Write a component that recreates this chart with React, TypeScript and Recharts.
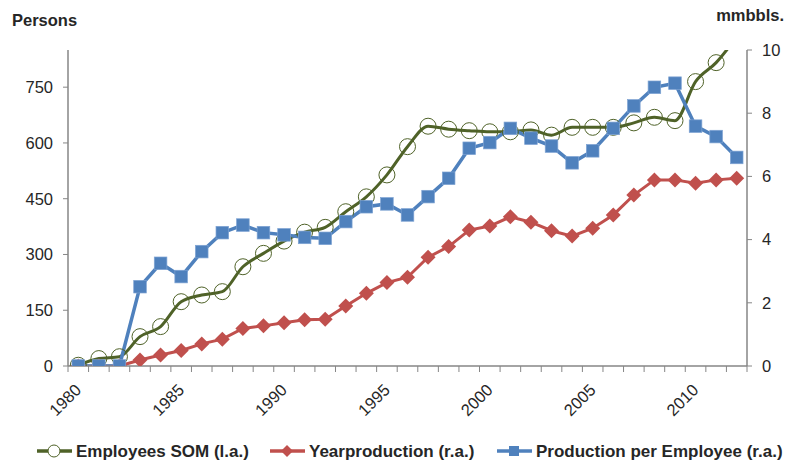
import React from "react";
import { LineChart, Line, XAxis, YAxis } from "recharts";

const years = [
  1980, 1981, 1982, 1983, 1984, 1985, 1986, 1987, 1988, 1989, 1990,
  1991, 1992, 1993, 1994, 1995, 1996, 1997, 1998, 1999, 2000,
  2001, 2002, 2003, 2004, 2005, 2006, 2007, 2008, 2009, 2010, 2011, 2012,
];

// persons (left axis)
const employees = [
  2, 20, 25, 79, 106, 173, 191, 200, 267, 303, 336,
  360, 373, 415, 455, 514, 590, 645, 637, 633, 630,
  630, 635, 621, 642, 642, 642, 654, 669, 660, 765, 816, 885,
];

// mmbbls (right axis)
const yearProduction = [
  0, 0, 0, 0.19, 0.35, 0.49, 0.7, 0.85, 1.19, 1.27, 1.37,
  1.46, 1.48, 1.9, 2.3, 2.64, 2.81, 3.44, 3.78, 4.3, 4.43,
  4.72, 4.55, 4.28, 4.11, 4.36, 4.78, 5.41, 5.89, 5.89, 5.78, 5.89, 5.94,
];

const perEmployee = [
  0, 0, 0, 2.51, 3.25, 2.83, 3.62, 4.22, 4.46, 4.22, 4.15,
  4.07, 4.04, 4.57, 5.04, 5.13, 4.78, 5.36, 5.94, 6.89, 7.07,
  7.52, 7.21, 6.96, 6.43, 6.81, 7.52, 8.23, 8.82, 8.95, 7.59, 7.26, 6.6,
];

const leftTicks = [0, 150, 300, 450, 600, 750];
const rightTicks = [0, 2, 4, 6, 8, 10];

const data = years.map((year, i) => ({
  year,
  employees: employees[i],
  yearProduction: yearProduction[i],
  perEmployee: perEmployee[i],
}));

const W = 787;
const H = 463;
const LEFT = 68;
const RIGHT = 747;
const TOP = 50;
const BOTTOM = 366;
const BW = (RIGHT - LEFT) / years.length;

const GREEN = "#4f6228";
const RED = "#c0504d";
const BLUE = "#4f81bd";
const AXIS = "#868686";
const TEXT = "#262626";
const FONT = "'Liberation Sans', Arial, sans-serif";

const YearTick = (props: any) => {
  const { x, payload, index } = props;
  const x0 = x - BW / 2;
  const year = payload.value;
  return (
    <g>
      <line x1={x0} x2={x0} y1={BOTTOM} y2={BOTTOM + 6} stroke={AXIS} />
      {index === years.length - 1 && (
        <line x1={x + BW / 2} x2={x + BW / 2} y1={BOTTOM} y2={BOTTOM + 6} stroke={AXIS} />
      )}
      {year % 5 === 0 && (
        <text
          x={x + 4}
          y={391}
          transform={`rotate(-45, ${x + 4}, 391)`}
          textAnchor="end"
          fill={TEXT}
          fontSize={16.5}
          fontFamily={FONT}
        >
          {year}
        </text>
      )}
    </g>
  );
};

const CircleDot = (props: any) => {
  const { cx, cy } = props;
  if (cx == null || cy == null) return null;
  return <circle cx={cx} cy={cy} r={8} fill="none" stroke={GREEN} strokeWidth={1} />;
};

const DiamondDot = (props: any) => {
  const { cx, cy } = props;
  if (cx == null || cy == null) return null;
  const s = 7.5;
  return (
    <polygon
      points={`${cx},${cy - s} ${cx + s},${cy} ${cx},${cy + s} ${cx - s},${cy}`}
      fill={RED}
    />
  );
};

const SquareDot = (props: any) => {
  const { cx, cy } = props;
  if (cx == null || cy == null) return null;
  const s = 6.3;
  return (
    <rect x={cx - s} y={cy - s} width={s * 2} height={s * 2} fill={BLUE} stroke="#7ea3d3" strokeWidth={0.7} />
  );
};

const legendItems = [
  { label: "Employees SOM (l.a.)", color: GREEN, x: 37, marker: "circle" },
  { label: "Yearproduction (r.a.)", color: RED, x: 270, marker: "diamond" },
  { label: "Production per Employee (r.a.)", color: BLUE, x: 497, marker: "square" },
];

const Overlay = () => (
  <svg
    width={W}
    height={H}
    style={{ position: "absolute", left: 0, top: 0, pointerEvents: "none" }}
  >
    <text x={12} y={26} fontSize={16.5} fontWeight="bold" fill={TEXT} fontFamily={FONT}>
      Persons
    </text>
    <text x={784} y={21} fontSize={16.5} fontWeight="bold" fill={TEXT} fontFamily={FONT} textAnchor="end">
      mmbbls.
    </text>
    {legendItems.map((item) => {
      const cy = 451;
      const cx = item.x + 17;
      return (
        <g key={item.label}>
          <line x1={item.x} x2={item.x + 35} y1={cy} y2={cy} stroke={item.color} strokeWidth={3.5} />
          {item.marker === "circle" && (
            <circle cx={cx} cy={cy} r={6} fill="#fff" stroke={item.color} strokeWidth={1} />
          )}
          {item.marker === "diamond" && (
            <polygon points={`${cx},${cy - 6} ${cx + 6},${cy} ${cx},${cy + 6} ${cx - 6},${cy}`} fill={item.color} />
          )}
          {item.marker === "square" && (
            <rect x={cx - 5} y={cy - 5} width={10} height={10} fill={item.color} />
          )}
          <text
            x={item.x + 39}
            y={cy + 6}
            fontSize={17}
            fontWeight="bold"
            fill={TEXT}
            fontFamily={FONT}
          >
            {item.label}
          </text>
        </g>
      );
    })}
  </svg>
);

export default function App() {
  return (
    <div style={{ position: "absolute", left: 0, top: 0, width: W, height: H, background: "#fff" }}>
      <LineChart
        width={W}
        height={H}
        data={data}
        margin={{ top: TOP, right: 0, bottom: 0, left: 0 }}
      >
        <XAxis
          dataKey="year"
          scale="band"
          height={H - BOTTOM}
          interval={0}
          tickLine={false}
          axisLine={{ stroke: AXIS, strokeWidth: 1.5 }}
          tick={<YearTick />}
        />
        <YAxis
          yAxisId="left"
          orientation="left"
          width={LEFT}
          domain={[0, 850]}
          ticks={leftTicks}
          allowDataOverflow
          axisLine={{ stroke: AXIS, strokeWidth: 1.5 }}
          tickLine={{ stroke: AXIS }}
          tickSize={5}
          tickMargin={10}
          tick={{ fill: TEXT, fontSize: 16.5, fontFamily: FONT }}
        />
        <YAxis
          yAxisId="right"
          orientation="right"
          width={W - RIGHT}
          domain={[0, 10]}
          ticks={rightTicks}
          allowDataOverflow
          axisLine={{ stroke: AXIS, strokeWidth: 1.5 }}
          tickLine={{ stroke: AXIS }}
          tickSize={5}
          tickMargin={10}
          tick={{ fill: TEXT, fontSize: 16.5, fontFamily: FONT, textAnchor: "start" }}
        />
        <Line
          yAxisId="left"
          dataKey="employees"
          type="monotone"
          stroke={GREEN}
          strokeWidth={3}
          dot={<CircleDot />}
          activeDot={false}
          isAnimationActive={false}
        />
        <Line
          yAxisId="right"
          dataKey="yearProduction"
          type="linear"
          stroke={RED}
          strokeWidth={3}
          dot={<DiamondDot />}
          activeDot={false}
          isAnimationActive={false}
        />
        <Line
          yAxisId="right"
          dataKey="perEmployee"
          type="linear"
          stroke={BLUE}
          strokeWidth={3.5}
          dot={<SquareDot />}
          activeDot={false}
          isAnimationActive={false}
        />
      </LineChart>
      <Overlay />
    </div>
  );
}
